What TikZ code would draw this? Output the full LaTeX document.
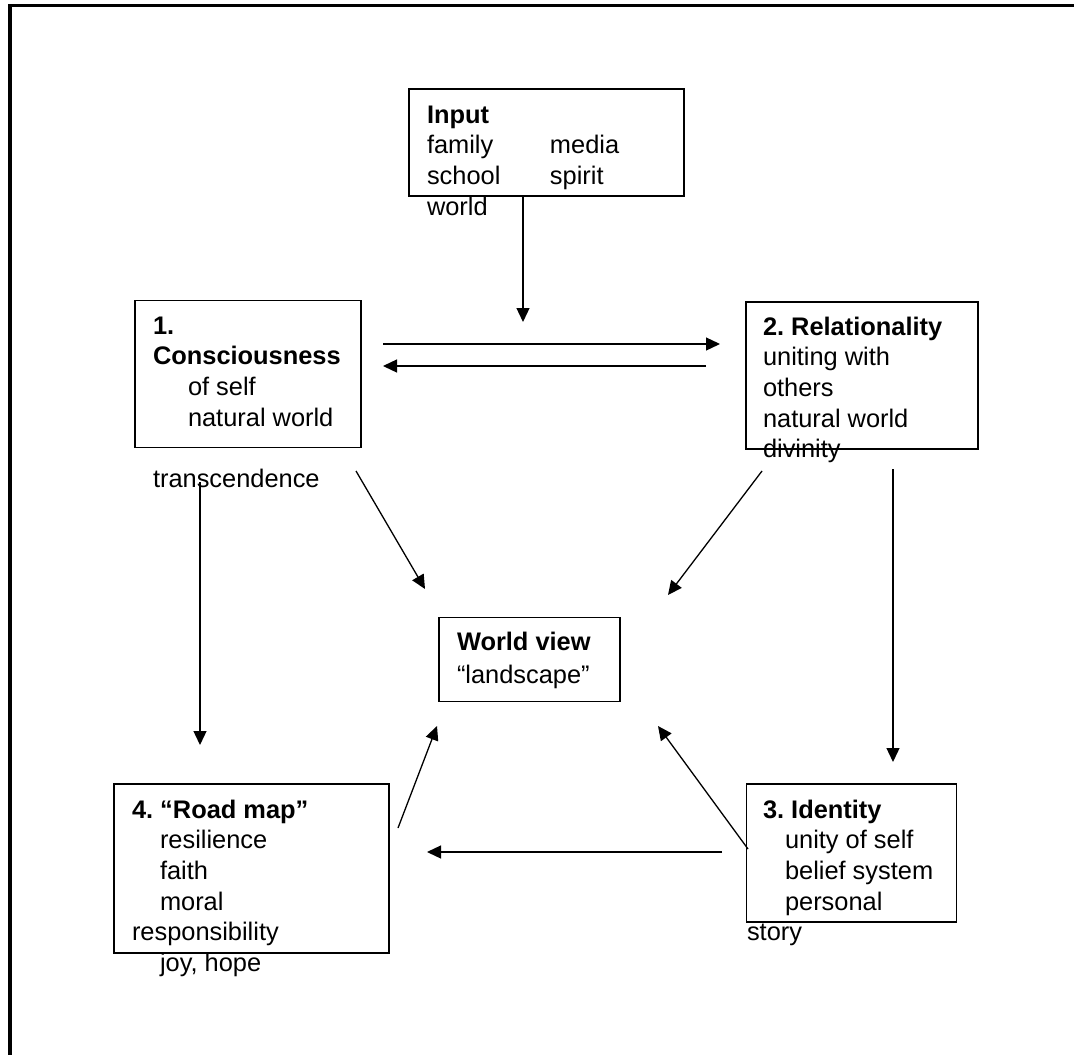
\documentclass[tikz,border=0pt]{standalone}
\usepackage{fontspec}
\setmainfont{Liberation Sans}
\usetikzlibrary{arrows.meta}
\frenchspacing
\newcommand{\tb}[1]{\begin{tabular}[t]{@{}l@{}}#1\end{tabular}}
\tikzset{
  box/.style={draw, line width=1.3pt, rectangle, inner sep=0pt, outer sep=0pt},
  txt/.style={anchor=base west, inner sep=0pt, outer sep=0pt, font=\fontsize{25.4}{30.7}\selectfont},
  arr/.style={line width=1.3pt, -{Triangle[length=14pt,width=13pt]}},
  frame/.style={line width=3.6pt}
}
\begin{document}
\begin{tikzpicture}[x=1pt,y=-1pt]
\useasboundingbox (0,0) rectangle (1074,1055);
% outer frame (only top and left edges visible)
\coordinate (fr1) at (1074,5.5);
\coordinate (fr2) at (10,5.5);
\coordinate (fr3) at (10,1055);
\draw[frame] (fr1) -- (fr2) -- (fr3);

% boxes
\node[box, minimum width=275, minimum height=107] (input) at (546.5,142.5) {};
\node[box, minimum width=226, minimum height=147] (cons) at (248,374) {};
\node[box, minimum width=232, minimum height=147] (rel) at (862,375.5) {};
\node[box, minimum width=181, minimum height=84] (wv) at (529.5,659.5) {};
\node[box, minimum width=275, minimum height=169] (road) at (251.5,868.5) {};
\node[box, minimum width=210, minimum height=138] (ident) at (851.5,853) {};

% texts
\node[txt] (tinput) at (427,123) {\tb{\textbf{Input}\\ \makebox[123pt][l]{family}media\\ \makebox[123pt][l]{school}spirit\\ world}};
\node[txt] (tcons) at (153,334) {\tb{\textbf{1.}\\ \textbf{Consciousness}\\ \hspace*{35pt}of self\\ \hspace*{35pt}natural world}};
\node[txt] (ttrans) at (153,487) {transcendence};
\node[txt] (trel) at (763,335) {\tb{\textbf{2. Relationality}\\ uniting with\\ others\\ natural world\\ divinity}};
\node[txt] (twv) at (457,650) {\tb{\textbf{World view}\\[3pt] “landscape”}};
\node[txt] (troad) at (132,818) {\tb{\textbf{4. “Road map”}\\ \hspace*{28pt}resilience\\ \hspace*{28pt}faith\\ \hspace*{28pt}moral\\ responsibility\\ \hspace*{28pt}joy, hope}};
\node[txt] (tident) at (763,818) {\tb{\textbf{3. Identity}\\ \hspace*{22pt}unity of self\\ \hspace*{22pt}belief system\\ \hspace*{22pt}personal\\ \hspace*{-16pt}story}};

% arrow end points
\coordinate (a1s) at (523,196);   \coordinate (a1e) at (523,322);
\coordinate (a2s) at (383,344);   \coordinate (a2e) at (720,344);
\coordinate (a3s) at (706,366);   \coordinate (a3e) at (383,366);
\coordinate (a4s) at (356,471);   \coordinate (a4e) at (425,589);
\coordinate (a5s) at (762,471);   \coordinate (a5e) at (668,595);
\coordinate (a6s) at (893,469);   \coordinate (a6e) at (893,762);
\coordinate (a7s) at (200,482);   \coordinate (a7e) at (200,745);
\coordinate (a8s) at (398,828);   \coordinate (a8e) at (437,726);
\coordinate (a9s) at (748,849);   \coordinate (a9e) at (658,726);
\coordinate (a10s) at (722,852);  \coordinate (a10e) at (427,852);

\draw[arr] (a1s) -- (a1e);
\draw[arr] (a2s) -- (a2e);
\draw[arr] (a3s) -- (a3e);
\draw[arr] (a4s) -- (a4e);
\draw[arr] (a5s) -- (a5e);
\draw[arr] (a6s) -- (a6e);
\draw[arr] (a7s) -- (a7e);
\draw[arr] (a8s) -- (a8e);
\draw[arr] (a9s) -- (a9e);
\draw[arr] (a10s) -- (a10e);
\end{tikzpicture}
\end{document}
